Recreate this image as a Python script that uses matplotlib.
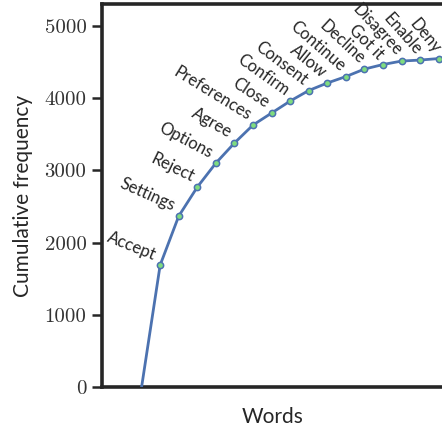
import numpy as np
import matplotlib
matplotlib.use('Agg')
import matplotlib.pyplot as plt

# words ordered by frequency, cumulative counts
words = ['Accept', 'Settings', 'Reject', 'Options', 'Agree', 'Preferences',
         'Close', 'Confirm', 'Consent', 'Allow', 'Continue', 'Decline',
         'Got it', 'Disagree', 'Enable', 'Deny']
cumulative = [1690, 2368, 2770, 3102, 3380, 3629, 3795, 3961, 4107, 4211,
              4300, 4404, 4467, 4515, 4529, 4550]
y_ticks = [0, 1000, 2000, 3000, 4000, 5000]

LINE_COLOR = '#4C72B0'
MARKER_FACE = '#7fdc7f'
SPINE_COLOR = '#262626'

x = np.arange(len(words) + 1)
y = np.concatenate([[0], cumulative])

fig = plt.figure(figsize=(4.42, 4.37), dpi=100)
ax = fig.add_axes([0.230, 0.114, 0.775, 0.876])

ax.plot(x, y, color=LINE_COLOR, linewidth=2.0, zorder=3)
ax.plot(x[1:], y[1:], linestyle='none', marker='o', markersize=4.5,
        markerfacecolor=MARKER_FACE, markeredgecolor=LINE_COLOR,
        markeredgewidth=1.1, zorder=4)

# word labels, rotated more steeply as the curve flattens
for i, word in enumerate(words):
    rot = -(22 + 1.9 * i)
    ax.annotate(word, (x[i + 1], y[i + 1]), xytext=(-5.5, 1.5),
                textcoords='offset points', ha='right', va='bottom',
                rotation=rot, rotation_mode='anchor',
                fontsize=12, family='Lato', color='#262626')

ax.set_xlim(-2.15, 16.3)
ax.set_ylim(0, 5300)
ax.set_xticks([])
ax.set_yticks(y_ticks)
ax.set_yticklabels([str(t) for t in y_ticks], family='cmr10', fontsize=15,
                   color='#333333')
ax.tick_params(axis='y', length=7, width=1.8, color=SPINE_COLOR, pad=4)

for side in ['left', 'bottom', 'top']:
    ax.spines[side].set_linewidth(2.6)
    ax.spines[side].set_color(SPINE_COLOR)
ax.spines['right'].set_visible(False)

ax.set_xlabel('Words', family='Lato', fontsize=15, color='#262626',
              labelpad=14)
ax.set_ylabel('Cumulative frequency', family='Lato', fontsize=15,
              color='#262626', labelpad=8)

plt.savefig('out.png', dpi=100)
